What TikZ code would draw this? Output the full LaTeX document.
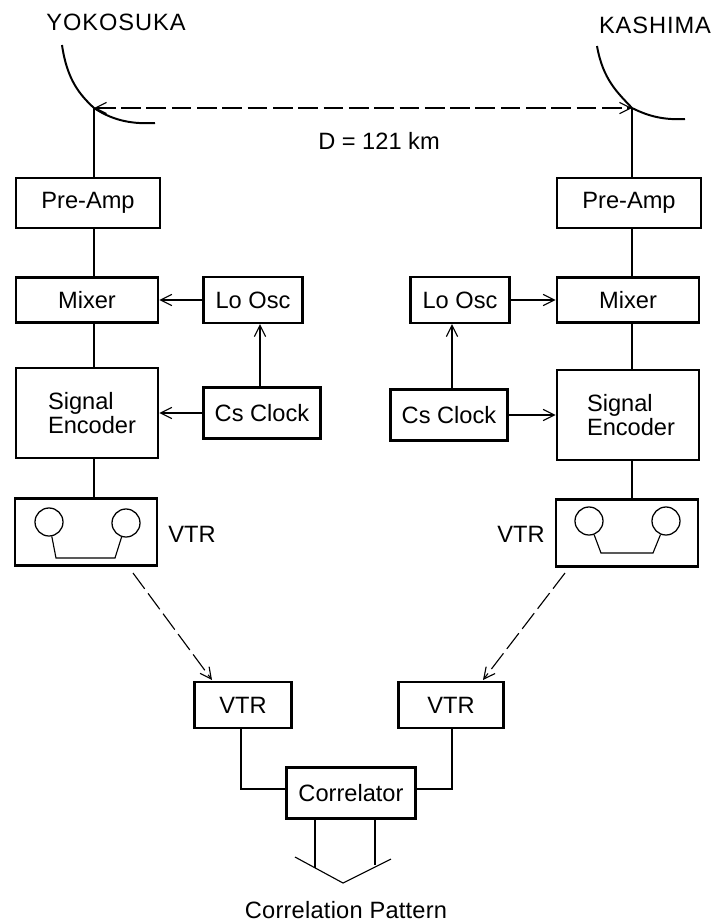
\documentclass[tikz,border=0pt]{standalone}
\usepackage{fontspec}
\setmainfont{Liberation Sans}
\usetikzlibrary{arrows.meta}

\begin{document}
\begin{tikzpicture}[x=0.025cm, y=-0.025cm, font=\fontsize{16.8}{17}\selectfont, line width=0.8pt, >={Straight Barb[length=8pt,width=8pt]}]
\tikzstyle{block} = [rectangle, draw=black, line width=1.6pt, inner sep=0pt, text centered]
\tikzstyle{tall} = [block, minimum width=3.6cm, minimum height=1.25cm]
\tikzstyle{flat} = [block, minimum width=3.56cm, minimum height=1.13cm]
\tikzstyle{small} = [block, minimum width=2.47cm, minimum height=1.15cm]
\tikzstyle{clock} = [block, minimum width=2.92cm, minimum height=1.28cm]
\tikzstyle{coder} = [block, minimum width=3.56cm, minimum height=2.25cm]
\tikzstyle{tape} = [block, minimum width=3.56cm, minimum height=1.68cm]
\tikzstyle{reel} = [circle, draw=black, line width=0.9pt, minimum size=0.7cm, inner sep=0pt]
\tikzstyle{link} = [dashed, dash pattern=on 14pt off 4pt, line width=0.8pt]
\tikzstyle{dish} = [line width=1.4pt]
\useasboundingbox (0,0) rectangle (714,923);

% Stations
\node (yoko) at (116,22) {\addfontfeature{LetterSpace=4}YOKOSUKA};
\node (kashima) at (655,25) {\addfontfeature{LetterSpace=4}KASHIMA};
\node (dist) at (379,141) {D = 121 km};

% Left chain
\node (preampL) [tall] at (88,203) {Pre-Amp};
\node (mixerL) [flat] at (87,300) {Mixer};
\node (loscL) [small] at (253,300) {Lo Osc};
\node (encL) [coder] at (87,413) {};
\node (enctextL) [align=left] at (92,413) {Signal\\Encoder};
\node (clockL) [clock] at (262,413) {Cs Clock};
\node (vtrL) [tape] at (86,532) {};
\node (vtrtextL) at (192,534) {VTR};
\node (reelL1) [reel] at (49,522) {};
\node (reelL2) [reel] at (126,523) {};

% Right chain
\node (preampR) [tall] at (629,203) {Pre-Amp};
\node (mixerR) [flat] at (628,300) {Mixer};
\node (loscR) [small] at (460,300) {Lo Osc};
\node (encR) [coder] at (628,415) {};
\node (enctextR) [align=left] at (631,415) {Signal\\Encoder};
\node (clockR) [clock] at (449,415) {Cs Clock};
\node (vtrR) [tape] at (627,533) {};
\node (vtrtextR) at (521,534) {VTR};
\node (reelR1) [reel] at (589,521) {};
\node (reelR2) [reel] at (666,521) {};

% Correlation
\node (vtrA) [small, minimum width=2.42cm, minimum height=1.15cm] at (243,705) {VTR};
\node (vtrB) [small, minimum width=2.62cm, minimum height=1.15cm] at (451,705) {VTR};
\node (corr) [small, minimum width=3.22cm, minimum height=1.27cm] at (351,793) {Correlator};
\node (pattern) [inner sep=0pt] at (346,910) {\addfontfeature{LetterSpace=1}Correlation Pattern};

% Free ends
\coordinate (feedL) at (94,108);
\coordinate (feedR) at (632,108);
\coordinate (upL) at (260,360);
\coordinate (upR) at (452,360);
\coordinate (tapeL) at (133,573);
\coordinate (tapeR) at (565,573);
\coordinate (elbowA) at (241,789);
\coordinate (elbowB) at (452,789);
\coordinate (fanL) at (295,857);
\coordinate (fanA) at (315,868);
\coordinate (fanB) at (375,865);
\coordinate (fanR) at (391,859);
\coordinate (fanT) at (343,883);

% Dishes
\draw[dish] (62,45) .. controls (67,80) and (80,95) .. (feedL) .. controls (115,122) and (135,124) .. (155,123);
\draw[dish] (597,46) .. controls (603,80) and (618,93) .. (feedR) .. controls (650,117) and (665,120) .. (685,119);
\draw[link, <->] (feedL) -- (feedR);

% Left lines
\draw (feedL) -- (feedL |- preampL.north);
\draw (feedL |- preampL.south) -- (feedL |- mixerL.north);
\draw (feedL |- mixerL.south) -- (feedL |- encL.north);
\draw (feedL |- encL.south) -- (feedL |- vtrL.north);
\draw[->] (loscL) -- (mixerL);
\draw[->] (clockL) -- (encL);
\draw[->] (upL |- clockL.north) -- (upL |- loscL.south);
\draw (reelL1) -- (56,558) -- (115,558) -- (reelL2);

% Right lines
\draw (feedR) -- (feedR |- preampR.north);
\draw (feedR |- preampR.south) -- (feedR |- mixerR.north);
\draw (feedR |- mixerR.south) -- (feedR |- encR.north);
\draw (feedR |- encR.south) -- (feedR |- vtrR.north);
\draw[->] (loscR) -- (mixerR);
\draw[->] (clockR) -- (encR);
\draw[->] (upR |- clockR.north) -- (upR |- loscR.south);
\draw (reelR1) -- (601,553) -- (653,553) -- (reelR2);

% Tapes carried
\draw[link, ->] (tapeL) -- (212,680);
\draw[link, ->] (tapeR) -- (483,680);

% To correlator
\draw (elbowA |- vtrA.south) -- (elbowA) -- (elbowA -| corr.west);
\draw (elbowB |- vtrB.south) -- (elbowB) -- (elbowB -| corr.east);
\draw (fanA |- corr.south) -- (fanA);
\draw (fanB |- corr.south) -- (fanB);
\draw (fanL) -- (fanT) -- (fanR);
\end{tikzpicture}
\end{document}
